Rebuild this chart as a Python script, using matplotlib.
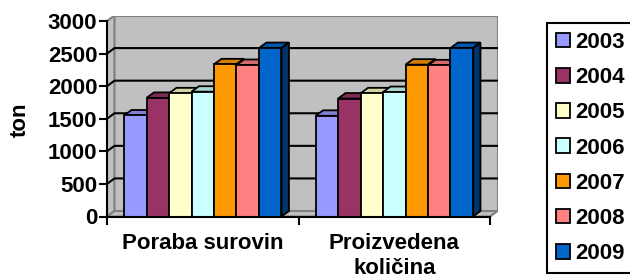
import matplotlib.pyplot as plt
import matplotlib.colors as mcolors
from matplotlib.patches import Polygon, Patch

plt.rcParams['font.family'] = ['Liberation Sans', 'DejaVu Sans']
plt.rcParams['font.weight'] = 'bold'

categories = ["Poraba surovin", "Proizvedena\nkoličina"]
years = ["2003", "2004", "2005", "2006", "2007", "2008", "2009"]
# one value per year, first for "Poraba surovin", then "Proizvedena količina"
poraba = [1550, 1820, 1890, 1915, 2335, 2325, 2585]
proizvedeno = [1545, 1810, 1890, 1910, 2330, 2320, 2585]
colors = ["#9999FF", "#993366", "#FFFFCC", "#CCFFFF", "#FF9900", "#FF8080", "#0066CC"]
y_ticks = [0, 500, 1000, 1500, 2000, 2500, 3000]

DX, DY = 0.039, 84      # depth offset of the fake 3d look (x units, value units)
GAP = 0.089             # empty space at each side of a category
W = (1 - 2 * GAP) / len(years)
WALL = "#C0C0C0"
WALL_EDGE = "#808080"
FS = 16


def shade(c, f):
    r, g, b = mcolors.to_rgb(c)
    return (r * f, g * f, b * f)


fig = plt.figure(figsize=(6.3, 2.78), dpi=100)
ax = fig.add_axes([107 / 630, (278 - 216.5) / 278, 390.5 / 630, 201 / 278])
ax.set_xlim(0, len(categories) + DX)
ax.set_ylim(0, y_ticks[-1] + DY)
ax.patch.set_visible(False)

top = y_ticks[-1]
right = len(categories)

# walls and floor
ax.add_patch(Polygon([(DX, DY), (right + DX, DY), (right + DX, top + DY), (DX, top + DY)],
                     closed=True, fc=WALL, ec=WALL_EDGE, lw=1.5, zorder=0.5))
ax.add_patch(Polygon([(0, 0), (DX, DY), (DX, top + DY), (0, top)],
                     closed=True, fc=WALL, ec=WALL_EDGE, lw=1.5, zorder=0.6))
ax.add_patch(Polygon([(0, 0), (right, 0), (right + DX, DY), (DX, DY)],
                     closed=True, fc=WALL, ec=WALL_EDGE, lw=1.5, zorder=0.6))

# gridlines on the back and side wall
for v in y_ticks[1:-1]:
    ax.plot([0, DX, right + DX], [v, v + DY, v + DY], color="k", lw=1.5, zorder=1)

# bars, left to right so the next front face hides the previous side
x_base = [i + GAP for i in range(len(categories))]
for j, year in enumerate(years):
    xs = [x + j * W for x in x_base]
    vals = [poraba[j], proizvedeno[j]]
    bars = ax.bar(xs, vals, W, align="edge", color=colors[j], edgecolor="k",
                  lw=1.3, zorder=2.5 + j)
    for b in bars:
        x, v = b.get_x(), b.get_height()
        ax.add_patch(Polygon([(x, v), (x + W, v), (x + W + DX, v + DY), (x + DX, v + DY)],
                             closed=True, fc=shade(colors[j], 0.83), ec="k", lw=1.3,
                             zorder=2 + j))
        ax.add_patch(Polygon([(x + W, 0), (x + W + DX, DY), (x + W + DX, v + DY), (x + W, v)],
                             closed=True, fc=shade(colors[j], 0.5), ec="k", lw=1.3,
                             zorder=2 + j))

# axes
for s in ["top", "right"]:
    ax.spines[s].set_visible(False)
ax.spines["left"].set_bounds(0, top)
ax.spines["bottom"].set_bounds(0, right)
ax.spines["left"].set_linewidth(1.5)
ax.spines["bottom"].set_linewidth(1.5)
ax.spines["left"].set_zorder(20)
ax.spines["bottom"].set_zorder(20)

ax.set_yticks(y_ticks)
ax.set_yticklabels([str(t) for t in y_ticks], fontsize=FS, fontweight="bold")
ax.tick_params(axis="y", length=6, width=1.5, pad=1)

ax.set_xticks(range(len(categories) + 1))
ax.set_xticklabels([])
ax.set_xticks([i + 0.5 for i in range(len(categories))], minor=True)
ax.set_xticklabels(categories, minor=True, fontsize=FS, fontweight="bold",
                   linespacing=1.25, va="top")
ax.tick_params(axis="x", which="major", length=6, width=1.5)
ax.tick_params(axis="x", which="minor", length=0, pad=12)

ax.set_ylabel("ton", fontsize=FS, fontweight="bold")
ax.yaxis.set_label_coords((31 - 107) / 390.5, (216.5 - 120) / 201)

handles = [Patch(facecolor=c, edgecolor="k", lw=1.3) for c in colors]
leg = fig.legend(handles, years, loc="upper left", bbox_to_anchor=(547 / 630, 1 - 23 / 278),
                 borderaxespad=0, fancybox=False, edgecolor="k", framealpha=1,
                 prop={"size": FS, "weight": "bold"}, handlelength=0.63, handleheight=0.63,
                 handletextpad=0.22, labelspacing=0.64, borderpad=0.4)
leg.get_frame().set_linewidth(1.5)

fig.savefig("out.png", dpi=100)
